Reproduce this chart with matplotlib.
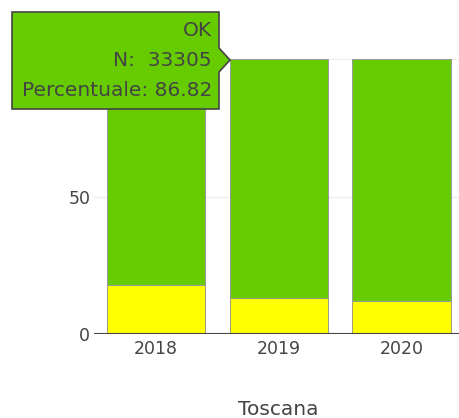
import matplotlib
matplotlib.use("Agg")
import matplotlib.pyplot as plt
from matplotlib.patches import Polygon

# data
anni = ["2018", "2019", "2020"]
ko = [17.8, 13.18, 12.1]
ok = [82.2, 86.82, 87.9]
regione = "Toscana"
tooltip_righe = ["OK", "N:  33305", "Percentuale: 86.82"]

verde = "#66cc00"
giallo = "#ffff00"
grigio = "#444444"

W, H = 460, 418
fig = plt.figure(figsize=(W / 100, H / 100), dpi=100)

# plot area in pixels: x from 94.5 to 463, y=0 at 334.3, 1 unit = 2.752 px
x0, x1 = 94.5, 463.0
y_zero = 334.3
ppu = 137.6 / 50
ytop = 103
ax = fig.add_axes([x0 / W, (H - y_zero) / H, (x1 - x0) / W, ytop * ppu / H])

pos = range(len(anni))
ax.bar(pos, ko, width=0.8, color=giallo, edgecolor="#a09a80", linewidth=0.7, zorder=3)
ax.bar(pos, ok, bottom=ko, width=0.8, color=verde, edgecolor="#999999", linewidth=0.7, zorder=3)

ax.set_xlim(-0.5, 2.5)
ax.set_ylim(0, ytop)
ax.set_yticks([0, 50, 100])
ax.set_yticklabels(["0", "50", "100"])
ax.set_xticks(list(pos))
ax.set_xticklabels(anni)
ax.grid(axis="y", color="#eeeeee", linewidth=1, zorder=0)
ax.axhline(0, color=grigio, linewidth=1.5, zorder=4)
for s in ax.spines.values():
    s.set_visible(False)
ax.tick_params(length=0, colors=grigio, labelsize=12.5)
ax.tick_params(axis="y", pad=3)
ax.tick_params(axis="x", pad=4)
ax.set_xlabel(regione, fontsize=14.5, color=grigio, labelpad=30)

# hover label
def fx(px):
    return px / W

def fy(py):
    return (H - py) / H

box = [(12, 12), (219, 12), (219, 48), (230, 60), (219, 72), (219, 109), (12, 109)]
fig.patches.append(Polygon([(fx(a), fy(b)) for a, b in box], closed=True,
                           transform=fig.transFigure, facecolor=verde,
                           edgecolor=grigio, linewidth=1.2, zorder=10))
for i, riga in enumerate(tooltip_righe):
    fig.text(fx(212), fy(31 + 29.5 * i), riga, ha="right", va="center",
             fontsize=14.5, color=grigio, family="DejaVu Sans", zorder=11)

fig.savefig("out.png", dpi=100)
